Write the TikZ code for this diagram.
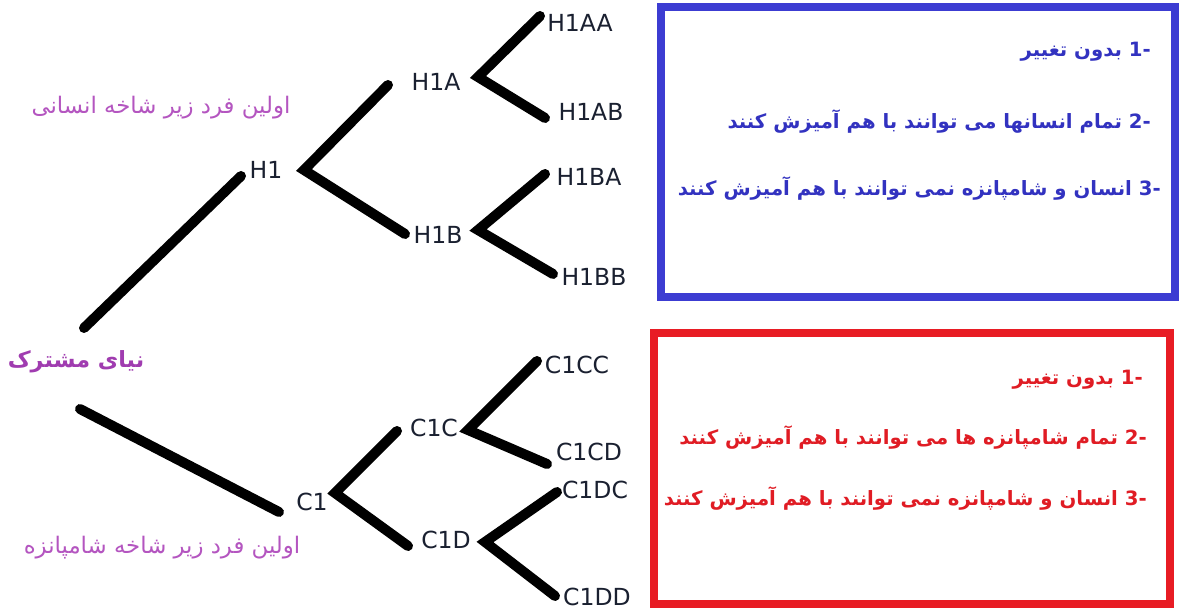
\documentclass[tikz,border=0pt]{standalone}
\usepackage{fontspec}
\setmainfont{DejaVu Sans}
\newfontfamily\arabicfont[Script=Arabic]{DejaVu Sans}
\TeXXeTstate=1
\definecolor{boxblue}{HTML}{3C3CD2}
\definecolor{txtblue}{HTML}{3232C0}
\definecolor{boxred}{HTML}{E81C24}
\definecolor{txtred}{HTML}{E01C24}
\definecolor{lilac}{HTML}{B455C0}
\definecolor{plum}{HTML}{A03CB0}
\definecolor{labelc}{HTML}{1A2030}
\begin{document}
\begin{tikzpicture}[x=1pt,y=-1pt,
  branch/.style={line width=10pt, line cap=round, draw=black},
  lbl/.style={font=\fontsize{23.5}{26}\selectfont, text=labelc, inner sep=0pt},
  frame/.style={draw, line width=7.5pt, inner sep=0pt},
  boxtxt/.style={font=\arabicfont\bfseries\fontsize{19.7}{24}\selectfont, inner sep=0pt, anchor=east},
  note/.style={font=\arabicfont\fontsize{22.8}{26}\selectfont, text=lilac, inner sep=0pt}]
\useasboundingbox (0,0) rectangle (1180,609);
\fill[white] (0,0) rectangle (1180,609);

% frames
\node[frame, draw=boxblue, minimum width=514pt, minimum height=290pt] (bluebox) at (918,152) {};
\node[frame, draw=boxred, minimum width=516pt, minimum height=271pt] (redbox) at (912,468.5) {};

% labels
\node[lbl] (H1) at (266,170) {H1};
\node[lbl] (H1A) at (436,82) {H1A};
\node[lbl] (H1B) at (438,235) {H1B};
\node[lbl] (H1AA) at (580,23) {H1AA};
\node[lbl] (H1AB) at (591,112) {H1AB};
\node[lbl] (H1BA) at (589,177) {H1BA};
\node[lbl] (H1BB) at (594,277) {H1BB};
\node[lbl] (C1) at (312,502) {C1};
\node[lbl] (C1C) at (434,428) {C1C};
\node[lbl] (C1D) at (446,540) {C1D};
\node[lbl] (C1CC) at (577,365) {C1CC};
\node[lbl] (C1CD) at (589,452) {C1CD};
\node[lbl] (C1DC) at (595,490) {C1DC};
\node[lbl] (C1DD) at (597,597) {C1DD};

% notes
\node[note] (noteH) at (161,108) {\beginR اولین فرد زیر شاخه انسانی\endR};
\node[note, font=\arabicfont\bfseries\fontsize{22.3}{26}\selectfont, text=plum] (root) at (76,362) {\beginR نیای مشترک\endR};
\node[note] (noteC) at (162,548) {\beginR اولین فرد زیر شاخه شامپانزه\endR};

% branch coordinates
\coordinate (r1) at (84,328);
\coordinate (h1in) at (241,176);
\coordinate (r2) at (80,409);
\coordinate (c1in) at (279,512);
\coordinate (h1v) at (304,170);
\coordinate (h1ain) at (388,85);
\coordinate (h1bin) at (405,234);
\coordinate (h1av) at (478,77);
\coordinate (h1aaend) at (540,16);
\coordinate (h1abend) at (545,118);
\coordinate (h1bv) at (478,230);
\coordinate (h1baend) at (545,174);
\coordinate (h1bbend) at (553,274);
\coordinate (c1v) at (335,493);
\coordinate (c1cin) at (397,431);
\coordinate (c1din) at (408,546);
\coordinate (c1cv) at (468,430);
\coordinate (c1ccend) at (537,361);
\coordinate (c1cdend) at (547,464);
\coordinate (c1dv) at (485,542);
\coordinate (c1dcend) at (557,492);
\coordinate (c1ddend) at (555,596);

\draw[branch] (r1) -- (h1in);
\draw[branch] (r2) -- (c1in);
\draw[branch] (h1ain) -- (h1v) -- (h1bin);
\draw[branch] (h1aaend) -- (h1av) -- (h1abend);
\draw[branch] (h1baend) -- (h1bv) -- (h1bbend);
\draw[branch] (c1cin) -- (c1v) -- (c1din);
\draw[branch] (c1ccend) -- (c1cv) -- (c1cdend);
\draw[branch] (c1dcend) -- (c1dv) -- (c1ddend);

% blue box text
\node[boxtxt, text=txtblue] (b1) at (1151,52) {\beginR بدون تغییر\endR\ -1};
\node[boxtxt, text=txtblue] (b2) at (1151,122) {\beginR تمام انسانها می توانند با هم آمیزش کنند\endR\ -2};
\node[boxtxt, text=txtblue] (b3) at (1161,188) {\beginR انسان و شامپانزه نمی توانند با هم آمیزش کنند\endR\ -3};

% red box text
\node[boxtxt, text=txtred] (r1t) at (1143,380) {\beginR بدون تغییر\endR\ -1};
\node[boxtxt, text=txtred] (r2t) at (1147,437) {\beginR تمام شامپانزه ها می توانند با هم آمیزش کنند\endR\ -2};
\node[boxtxt, text=txtred] (r3t) at (1147,498) {\beginR انسان و شامپانزه نمی توانند با هم آمیزش کنند\endR\ -3};
\end{tikzpicture}
\end{document}
